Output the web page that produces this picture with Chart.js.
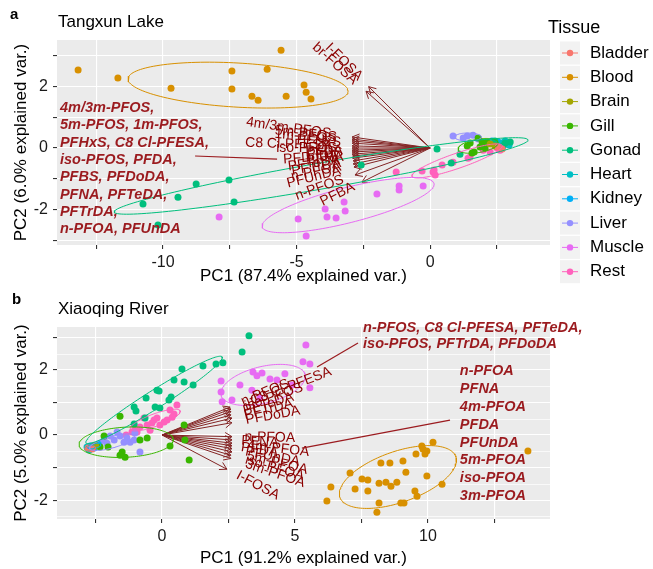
<!DOCTYPE html>
<html><head><meta charset="utf-8">
<script src="https://cdn.jsdelivr.net/npm/chart.js@4"></script>
<style>
html,body{margin:0;padding:0;background:#fff;}
#wrap{position:relative;width:653px;height:569px;overflow:hidden;}
#c1{position:absolute;left:0;top:0;}
#c2{position:absolute;left:0;top:290px;}
</style></head><body>
<div id="wrap">
<canvas id="c1" width="653" height="290"></canvas>
<canvas id="c2" width="653" height="279"></canvas>
</div>
<script>
// ---------- categories ----------
const tissues = ['Bladder','Blood','Brain','Gill','Gonad','Heart','Kidney','Liver','Muscle','Rest'];
const tissueColors = ['#F8766D','#D89000','#A3A500','#39B600','#00BF7D','#00BFC4','#00B0F6','#9590FF','#E76BF3','#FF62BC'];

// ---------- panel a : Tangxun Lake (scores) ----------
const aBladderPC1 = [2.55, 2.70];
const aBladderPC2 = [0.03, -0.03];
const aBloodPC1 = [-13.18,-11.69,-9.70,-7.42,-7.42,-6.67,-6.44,-6.10,-5.58,-5.39,-4.72,-4.64,-4.46];
const aBloodPC2 = [2.54,2.28,1.95,2.51,1.92,1.69,1.56,2.57,3.19,1.69,2.05,1.82,1.60];
const aBrainPC1 = [2.25, 2.43];
const aBrainPC2 = [0.13, 0.07];
const aGillPC1 = [1.39,1.50,1.80,1.65,1.95,2.13,1.87,1.57,2.06];
const aGillPC2 = [0.07,0.16,0.33,-0.13,0.20,0.20,0.03,-0.16,0.00];
const aGonadPC1 = [-10.75,-10.19,-9.44,-8.76,-7.53,-7.34,-2.58,0.26,0.79,1.12,2.06,2.43,2.73,3.00,2.81];
const aGonadPC2 = [-1.82,-2.51,-1.60,-1.17,-1.04,-1.76,-0.55,-0.03,-0.49,-0.20,0.16,0.23,0.07,0.20,0.16];
const aHeartPC1 = [2.70,2.81,2.96];
const aHeartPC2 = [0.16,0.23,0.10];
const aKidneyPC1 = [2.32,2.55,2.88];
const aKidneyPC2 = [0.23,0.20,0.13];
const aLiverPC1 = [0.86,1.39,1.61,1.24,1.80];
const aLiverPC2 = [0.39,0.39,0.42,0.33,0.29];
const aMusclePC1 = [-7.90,-4.94,-4.64,-3.93,-3.86,-3.52,-3.22,-3.18,-1.99,-1.16,-1.16,-0.26];
const aMusclePC2 = [-2.25,-2.31,-2.87,-1.99,-2.25,-2.28,-1.76,-2.05,-1.50,-1.24,-1.37,-1.24];
const aRestPC1 = [-1.27,-0.30,0.11,0.19,0.15,0.45,0.86,1.42,1.50,1.99,2.25,2.51,2.62,2.70];
const aRestPC2 = [-0.78,-0.75,-0.78,-0.88,-0.72,-0.55,-0.46,-0.33,-0.29,-0.07,-0.13,0.00,-0.07,0.03];

// panel a : concentration ellipses (centre, half-axis vectors)
const aEllTissue = ['Blood','Gonad','Muscle','Rest','Liver','Gill'];
const aEllCX = [-7.19,-4.08,-3.07,1.01,1.42,1.80];
const aEllCY = [2.05,-0.91,-1.86,-0.42,0.36,0.07];
const aEllUX = [4.12,7.75,3.22,1.69,0.50,0.75];
const aEllUY = [-0.20,1.17,0.68,0.49,0.00,0.10];
const aEllVX = [0,0,0,0,0,0];
const aEllVY = [0.72,0.43,0.59,0.26,0.13,0.22];

// panel a : variable loadings (arrows)
const aVarNames = ['I-FOSA','br-FOSA','4m/3m-PFOS','5m-PFOS','1m-PFOS','PFHxS','C8 Cl-PFESA','iso-PFOS','PFDA','PFBS','PFDoDA','PFNA','PFTeDA','PFTrDA','n-PFOA','PFUnDA','n-PFOS','PFBA'];
const aVarPC1 = [-2.30,-2.40,-2.92,-2.92,-2.92,-2.92,-2.92,-2.92,-2.92,-2.92,-2.92,-2.90,-2.90,-2.88,-2.88,-2.85,-2.81,-2.55];
const aVarPC2 = [2.00,1.85,0.36,0.29,0.23,0.16,0.07,0.00,-0.07,-0.13,-0.20,-0.26,-0.33,-0.42,-0.52,-0.62,-0.88,-1.11];
const aNoteLines = ['4m/3m-PFOS,','5m-PFOS, 1m-PFOS,','PFHxS, C8 Cl-PFESA,','iso-PFOS, PFDA,','PFBS, PFDoDA,','PFNA, PFTeDA,','PFTrDA,','n-PFOA, PFUnDA'];

// ---------- panel b : Xiaoqing River (scores) ----------
const bBladderPC1 = [-2.78,-2.63];
const bBladderPC2 = [-0.40,-0.43];
const bBloodPC1 = [10.19,9.77,9.81,9.96,9.89,9.55,13.76,9.06,8.57,8.23,9.17,9.96,10.53,7.07,7.52,7.74,8.16,8.42,8.61,8.83,7.26,7.74,9.51,9.59,6.35,6.20,8.16,8.98,9.10,8.08];
const bBloodPC2 = [-0.22,-0.34,-0.43,-0.49,-0.58,-0.58,-0.49,-0.80,-0.86,-0.86,-1.14,-1.26,-1.51,-1.17,-1.35,-1.38,-1.48,-1.45,-1.57,-1.45,-1.66,-1.72,-1.72,-1.88,-1.60,-2.03,-2.09,-2.09,-2.09,-2.37];
const bBrainPC1 = [-2.60,-2.50];
const bBrainPC2 = [-0.37,-0.32];
const bGillPC1 = [-1.58,0.83,0.86,-0.56,0.30,1.02,-1.50,-1.39,-1.58,-2.18,-2.33,-2.03,-0.83];
const bGillPC2 = [0.58,0.31,-0.15,-0.09,-0.34,-0.77,-0.52,-0.68,-0.62,-0.03,-0.37,-0.37,-0.15];
const bGonadPC1 = [3.27,3.01,2.29,2.03,1.54,0.75,0.45,0.83,1.17,-0.19,-0.11,-0.60,0.34,0.26,-0.26,-1.05,-0.98,-1.05,-0.64,-0.08];
const bGonadPC2 = [3.05,2.55,2.22,2.18,2.12,2.03,1.69,1.63,1.54,1.38,1.35,1.14,1.17,1.08,0.86,0.86,0.74,0.34,0.52,0.83];
const bHeartPC1 = [-2.82,-2.74,-2.60];
const bHeartPC2 = [-0.37,-0.46,-0.34];
const bKidneyPC1 = [-2.70,-2.55,-2.40];
const bKidneyPC2 = [-0.34,-0.40,-0.28];
const bLiverPC1 = [-1.69,-1.32,-1.43,-1.80,-2.07,-2.33,-2.44,-1.20,-1.02,-0.83,-1.05,-1.95,-2.18,-1.58,-2.63];
const bLiverPC2 = [0.09,-0.09,-0.22,-0.15,-0.25,-0.25,-0.31,-0.22,0.06,-0.52,-0.15,-0.03,-0.15,-0.03,-0.37];
const bMusclePC1 = [5.41,5.30,5.56,3.42,3.57,3.76,4.62,2.22,2.22,2.63,2.26,4.32,4.06,3.38,4.89,3.68,5.56,2.93];
const bMusclePC2 = [2.77,2.25,2.18,1.94,1.82,1.91,1.88,1.66,1.32,1.08,1.02,1.69,1.72,1.38,1.54,1.14,1.45,1.54];
const bRestPC1 = [0.56,0.45,0.38,0.19,-0.19,-0.30,-0.38,-0.68,-0.83,-1.02,-0.08,0.08,-1.13,-0.94,-0.45,-0.56,0.30,-1.35];
const bRestPC2 = [0.92,0.65,0.55,0.46,0.52,0.46,0.37,0.52,0.25,0.25,0.31,0.40,0.09,0.09,0.15,0.31,0.77,0.00];

const bEllTissue = ['Blood','Gonad','Gill','Muscle','Rest','Liver','Bladder','Heart','Kidney'];
const bEllCX = [8.87,-0.30,-1.35,3.80,-0.26,-1.88,-2.70,-2.72,-2.55];
const bEllCY = [-1.29,1.08,-0.22,1.54,0.46,-0.22,-0.41,-0.40,-0.34];
const bEllUX = [2.18,2.56,1.77,1.58,0.94,0.85,0.20,0.20,0.25];
const bEllUY = [0.62,1.32,0.09,0.31,0.28,0.18,0.02,0.03,0.04];
const bEllVX = [0.30,0.17,0.08,0.15,0.08,0.00,0.00,0.00,0.00];
const bEllVY = [-0.74,-0.24,-0.46,-0.55,-0.18,0.18,0.07,0.07,0.07];

const bVarNames = ['n-PFOS','C8 Cl-PFESA','iso-PFOS','PFTeDA','PFTrDA','PFDoDA','n-PFOA','PFNA','4m-PFOA','PFDA','PFUnDA','5m-PFOA','iso-PFOA','3m-PFOA','I-FOSA'];
const bVarPC1 = [2.56,2.59,2.59,2.59,2.63,2.63,2.63,2.63,2.63,2.63,2.63,2.63,2.59,2.59,2.44];
const bVarPC2 = [0.86,0.80,0.72,0.62,0.52,0.38,-0.05,-0.15,-0.25,-0.33,-0.42,-0.52,-0.62,-0.72,-1.05];
const bNote1Lines = ['n-PFOS, C8 Cl-PFESA, PFTeDA,','iso-PFOS, PFTrDA, PFDoDA'];
const bNote2Lines = ['n-PFOA','PFNA','4m-PFOA','PFDA','PFUnDA','5m-PFOA','iso-PFOA','3m-PFOA'];

// ---------- tick labels ----------
const aXTicks = [-12.5,-10,-7.5,-5,-2.5,0,2.5];
const aXLabels = [-10,-5,0];
const aYTicks = [-3,-2,-1,0,1,2,3];
const aYLabels = [-2,0,2];
const bXTicks = [-2.5,0,2.5,5,7.5,10,12.5];
const bXLabels = [0,5,10];
const bYTicks = [-2,-1,0,1,2,3];
const bYLabels = [-2,0,2];

// ---------- drawing ----------
const FONT = '"Liberation Sans", Arial, Helvetica, sans-serif';
Chart.defaults.font.family = FONT;
const ARROW = '#832424';
const VARTXT = '#8B0000';
const NOTE = '#9B1B1F';

function ellipsePts(cx, cy, ux, uy, vx, vy) {
  const pts = [];
  for (let j = 0; j <= 144; j++) {
    const a = 2 * Math.PI * j / 144;
    pts.push({x: cx + Math.cos(a) * ux + Math.sin(a) * vx, y: cy + Math.cos(a) * uy + Math.sin(a) * vy});
  }
  return pts;
}

function makeDeco(P) {
  return {
    id: 'deco_' + P.id,
    beforeDraw(chart) {
      const {ctx, chartArea: a} = chart;
      ctx.save();
      ctx.fillStyle = '#fff';
      ctx.fillRect(0, 0, chart.width, chart.height);
      ctx.fillStyle = '#EBEBEB';
      ctx.fillRect(a.left, a.top, a.right - a.left, a.bottom - a.top);
      ctx.restore();
    },
    beforeDatasetsDraw(chart) {
      const {ctx, chartArea: a, scales: {x: xs, y: ys}} = chart;
      ctx.save();
      ctx.strokeStyle = '#fff';
      ctx.lineWidth = 0.7;
      P.minorY.forEach(v => {
        const y = Math.round(ys.getPixelForValue(v)) + 0.5;
        ctx.beginPath(); ctx.moveTo(a.left, y); ctx.lineTo(a.right, y); ctx.stroke();
      });
      // arrow heads
      const x0 = xs.getPixelForValue(0), y0 = ys.getPixelForValue(0);
      ctx.strokeStyle = ARROW; ctx.lineWidth = 1;
      P.varPC1.forEach((vx, i) => {
        const x1 = xs.getPixelForValue(vx), y1 = ys.getPixelForValue(P.varPC2[i]);
        const th = Math.atan2(y1 - y0, x1 - x0);
        const L = 8, h = Math.PI / 6;
        ctx.beginPath();
        ctx.moveTo(x1 - L * Math.cos(th - h), y1 - L * Math.sin(th - h));
        ctx.lineTo(x1, y1);
        ctx.lineTo(x1 - L * Math.cos(th + h), y1 - L * Math.sin(th + h));
        ctx.stroke();
      });
      ctx.restore();
    },
    afterDatasetsDraw(chart) {
      const {ctx, scales: {x: xs, y: ys}} = chart;
      const x0 = xs.getPixelForValue(0), y0 = ys.getPixelForValue(0);
      ctx.save();
      ctx.fillStyle = VARTXT;
      ctx.font = '14px ' + FONT;
      ctx.textAlign = 'left';
      ctx.textBaseline = 'middle';
      P.varNames.forEach((n, i) => {
        const vx = P.varPC1[i];
        const x1 = xs.getPixelForValue(vx), y1 = ys.getPixelForValue(P.varPC2[i]);
        const ang = Math.atan((y1 - y0) / (x1 - x0));
        const hj = vx < 0 ? 1.25 : -0.25;
        const w = ctx.measureText(n).width;
        ctx.save();
        ctx.translate(x1, y1);
        ctx.rotate(ang);
        ctx.fillText(n, -hj * w, 0);
        ctx.restore();
      });
      ctx.restore();
    },
    afterDraw(chart) {
      const {ctx, scales: {x: xs, y: ys}} = chart;
      ctx.save();
      // leader lines
      ctx.strokeStyle = NOTE; ctx.lineWidth = 1.2;
      P.leaders.forEach(l => {
        ctx.beginPath();
        ctx.moveTo(xs.getPixelForValue(l[0]), ys.getPixelForValue(l[1]));
        ctx.lineTo(xs.getPixelForValue(l[2]), ys.getPixelForValue(l[3]));
        ctx.stroke();
      });
      // note blocks
      ctx.fillStyle = NOTE;
      ctx.font = 'italic bold 14.5px ' + FONT;
      ctx.textAlign = 'left'; ctx.textBaseline = 'middle';
      P.notes.forEach(nb => {
        const x = xs.getPixelForValue(nb.x), y = ys.getPixelForValue(nb.y);
        nb.lines.forEach((t, k) => ctx.fillText(t, x, y + k * nb.gap));
      });
      // panel letter + title
      ctx.fillStyle = '#000';
      ctx.font = 'bold 15px ' + FONT;
      ctx.fillText(P.letter, P.letterX, P.letterY);
      ctx.font = '17px ' + FONT;
      ctx.fillText(P.title, 58, P.titleY);
      if (P.legend) {
        ctx.font = '18px ' + FONT;
        ctx.fillText('Tissue', 548, 28);
        tissues.forEach((t, i) => {
          const cy = 53 + i * 24.3;
          ctx.fillStyle = '#F2F2F2';
          ctx.fillRect(560, cy - 11.5, 20, 23);
          ctx.strokeStyle = tissueColors[i]; ctx.lineWidth = 1;
          ctx.beginPath(); ctx.moveTo(562, cy); ctx.lineTo(578, cy); ctx.stroke();
          ctx.fillStyle = tissueColors[i];
          ctx.beginPath(); ctx.arc(570, cy, 3.2, 0, 2 * Math.PI); ctx.fill();
          ctx.fillStyle = '#000';
          ctx.font = '17px ' + FONT;
          ctx.fillText(t, 590, cy);
        });
      }
      ctx.restore();
    }
  };
}

function buildPanel(canvasId, P) {
  const datasets = [];
  P.varNames.forEach((n, i) => datasets.push({
    type: 'line', label: n,
    data: [{x: 0, y: 0}, {x: P.varPC1[i], y: P.varPC2[i]}],
    borderColor: ARROW, borderWidth: 1, pointRadius: 0, fill: false, order: 3
  }));
  tissues.forEach((t, k) => {
    const s = P.scores[k];
    datasets.push({
      type: 'scatter', label: t,
      data: s[0].map((x, i) => ({x: x, y: s[1][i]})),
      backgroundColor: tissueColors[k], borderColor: tissueColors[k],
      pointRadius: 3.5, pointBorderWidth: 0, borderWidth: 0, order: 2
    });
  });
  P.ell[0].forEach((t, i) => {
    const k = tissues.indexOf(t);
    datasets.push({
      type: 'line', label: t + ' ellipse',
      data: ellipsePts(P.ell[1][i], P.ell[2][i], P.ell[3][i], P.ell[4][i], P.ell[5][i], P.ell[6][i]),
      borderColor: tissueColors[k], borderWidth: 1, pointRadius: 0, fill: false, tension: 0, order: 1
    });
  });

  new Chart(document.getElementById(canvasId), {
    type: 'scatter',
    data: {datasets},
    options: {
      responsive: false, animation: false, devicePixelRatio: 1, events: [],
      layout: {padding: {left: 0, top: P.pTop, right: 653 - P.pRight, bottom: 0}},
      plugins: {legend: {display: false}, tooltip: {enabled: false}},
      scales: {
        x: {
          type: 'linear', min: P.xMin, max: P.xMax,
          afterBuildTicks: s => { s.ticks = P.xTicks.map(v => ({value: v})); },
          afterFit: s => { s.height = P.H - P.pBottom; },
          ticks: {callback: v => P.xLabels.includes(v) ? String(v) : '', font: {size: 16}, color: '#1a1a1a', padding: 4, maxRotation: 0, autoSkip: false},
          grid: {color: '#ffffff', lineWidth: 1.1, tickColor: '#333333', tickLength: 4, drawTicks: true},
          border: {display: false},
          title: {display: true, text: P.xTitle, font: {size: 17}, color: '#000', padding: {top: 0, bottom: P.xTitlePad}}
        },
        y: {
          type: 'linear', min: P.yMin, max: P.yMax,
          afterBuildTicks: s => { s.ticks = P.yTicks.map(v => ({value: v})); },
          afterFit: s => { s.width = P.pLeft; },
          ticks: {callback: v => P.yLabels.includes(v) ? String(v) : '', font: {size: 16}, color: '#1a1a1a', padding: 5, autoSkip: false},
          grid: {color: '#ffffff', lineWidth: 1.1, tickColor: '#333333', tickLength: 4, drawTicks: true},
          border: {display: false},
          title: {display: true, text: P.yTitle, font: {size: 17}, color: '#000', padding: {top: 11, bottom: 0}}
        }
      }
    },
    plugins: [makeDeco(P)]
  });
}

buildPanel('c1', {
  id: 'a', H: 290, pLeft: 57, pRight: 550, pTop: 40, pBottom: 245,
  xMin: -13.97, xMax: 4.49, yMin: -3.16, yMax: 3.52,
  xTicks: aXTicks, xLabels: aXLabels, yTicks: aYTicks, yLabels: aYLabels, minorY: [],
  xTitle: 'PC1 (87.4% explained var.)', yTitle: 'PC2 (6.0% explained var.)', xTitlePad: 3,
  scores: [[aBladderPC1,aBladderPC2],[aBloodPC1,aBloodPC2],[aBrainPC1,aBrainPC2],[aGillPC1,aGillPC2],[aGonadPC1,aGonadPC2],[aHeartPC1,aHeartPC2],[aKidneyPC1,aKidneyPC2],[aLiverPC1,aLiverPC2],[aMusclePC1,aMusclePC2],[aRestPC1,aRestPC2]],
  ell: [aEllTissue, aEllCX, aEllCY, aEllUX, aEllUY, aEllVX, aEllVY],
  varNames: aVarNames, varPC1: aVarPC1, varPC2: aVarPC2,
  notes: [{lines: aNoteLines, x: -13.86, y: 1.30, gap: 17.3}],
  leaders: [[-8.80, -0.26, -5.73, -0.36]],
  letter: 'a', letterX: 10, letterY: 15, title: 'Tangxun Lake', titleY: 22, legend: true
});

buildPanel('c2', {
  id: 'b', H: 279, pLeft: 57, pRight: 550, pTop: 37, pBottom: 229,
  xMin: -3.95, xMax: 14.59, yMin: -2.58, yMax: 3.32,
  xTicks: bXTicks, xLabels: bXLabels, yTicks: bYTicks, yLabels: bYLabels, minorY: [-2.5,-1.5,-0.5,0.5,1.5,2.5],
  xTitle: 'PC1 (91.2% explained var.)', yTitle: 'PC2 (5.0% explained var.)', xTitlePad: 0,
  scores: [[bBladderPC1,bBladderPC2],[bBloodPC1,bBloodPC2],[bBrainPC1,bBrainPC2],[bGillPC1,bGillPC2],[bGonadPC1,bGonadPC2],[bHeartPC1,bHeartPC2],[bKidneyPC1,bKidneyPC2],[bLiverPC1,bLiverPC2],[bMusclePC1,bMusclePC2],[bRestPC1,bRestPC2]],
  ell: [bEllTissue, bEllCX, bEllCY, bEllUX, bEllUY, bEllVX, bEllVY],
  varNames: bVarNames, varPC1: bVarPC1, varPC2: bVarPC2,
  notes: [{lines: bNote1Lines, x: 7.56, y: 3.29, gap: 15.6}, {lines: bNote2Lines, x: 11.20, y: 1.97, gap: 17.9}],
  leaders: [[7.37, 2.83, 5.83, 2.09], [10.83, 0.46, 5.26, -0.40]],
  letter: 'b', letterX: 12, letterY: 10, title: 'Xiaoqing River', titleY: 19, legend: false
});
</script>
</body></html>
